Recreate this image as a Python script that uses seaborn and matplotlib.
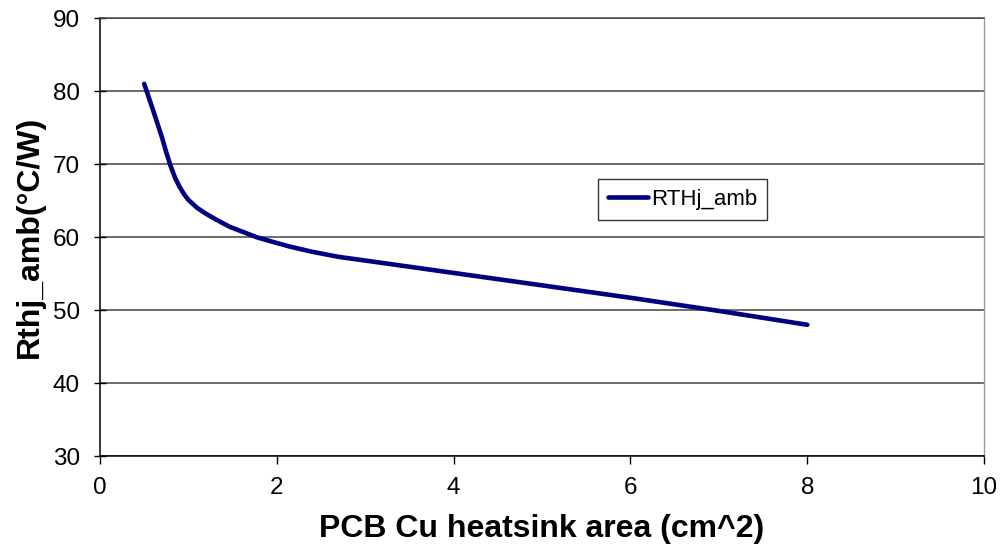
import matplotlib
matplotlib.use("Agg")
import matplotlib.pyplot as plt
import seaborn as sns
import pandas as pd

area = [0.5, 0.6, 0.7, 0.75, 0.8, 0.85, 0.9, 0.95, 1.0, 1.1, 1.2, 1.3, 1.47, 1.6, 1.77,
        2.0, 2.15, 2.4, 2.7, 3.0, 4.0, 5.0, 6.0, 7.0, 8.0]
rth = [81.0, 77.4, 73.7, 71.6, 69.7, 68.1, 66.9, 65.9, 65.1, 64.0, 63.2, 62.5, 61.4, 60.8, 60.0,
       59.2, 58.7, 58.0, 57.3, 56.8, 55.1, 53.4, 51.7, 49.9, 48.0]
series_name = "RTHj_amb"
x_ticks = [0, 2, 4, 6, 8, 10]
y_ticks = [30, 40, 50, 60, 70, 80, 90]

df = pd.DataFrame({"area": area, "rth": rth, "series": series_name})

sns.set_theme(style="white")
plt.rcParams["font.family"] = ["Liberation Sans", "DejaVu Sans"]
plt.rcParams["text.color"] = "black"
plt.rcParams["axes.labelcolor"] = "black"

fig = plt.figure(figsize=(10.07, 5.49), dpi=100)
ax = fig.add_axes([0.0993, 0.169, 0.878, 0.798])

sns.lineplot(data=df, x="area", y="rth", hue="series", palette=["#000080"],
             linewidth=3.3, ax=ax, solid_capstyle="round", solid_joinstyle="round")

ax.set_xlim(0, 10)
ax.set_ylim(30, 90)
ax.set_xticks(x_ticks)
ax.set_yticks(y_ticks)
ax.tick_params(axis="x", labelsize=17.5, direction="out", length=6, width=1,
               color="black", labelcolor="black", pad=9, bottom=True)
ax.tick_params(axis="y", labelsize=17.5, direction="inout", length=9, width=1,
               color="black", labelcolor="black", pad=10, left=True)

ax.yaxis.grid(True, color="#444444", linewidth=1.1)
ax.xaxis.grid(False)
ax.set_axisbelow(True)

for side in ["left", "bottom"]:
    ax.spines[side].set_color("black")
    ax.spines[side].set_linewidth(1.1)
ax.spines["right"].set_color("#999999")
ax.spines["right"].set_linewidth(1.0)
ax.spines["top"].set_color("#444444")
ax.spines["top"].set_linewidth(1.1)

ax.set_xlabel("PCB Cu heatsink area (cm^2)", fontsize=23, fontweight="bold", labelpad=11)
ax.set_ylabel("Rthj_amb(°C/W)", fontsize=23, fontweight="bold", labelpad=6)

leg = ax.legend(loc="center", bbox_to_anchor=(0.659, 0.5856),
                fontsize=16, frameon=True, fancybox=False,
                handlelength=1.8, handletextpad=0.1, borderaxespad=0, borderpad=0.45)
leg.get_frame().set_edgecolor("black")
leg.get_frame().set_linewidth(1.0)
for line in leg.get_lines():
    line.set_linewidth(3.3)

fig.savefig("out.png", dpi=100)
